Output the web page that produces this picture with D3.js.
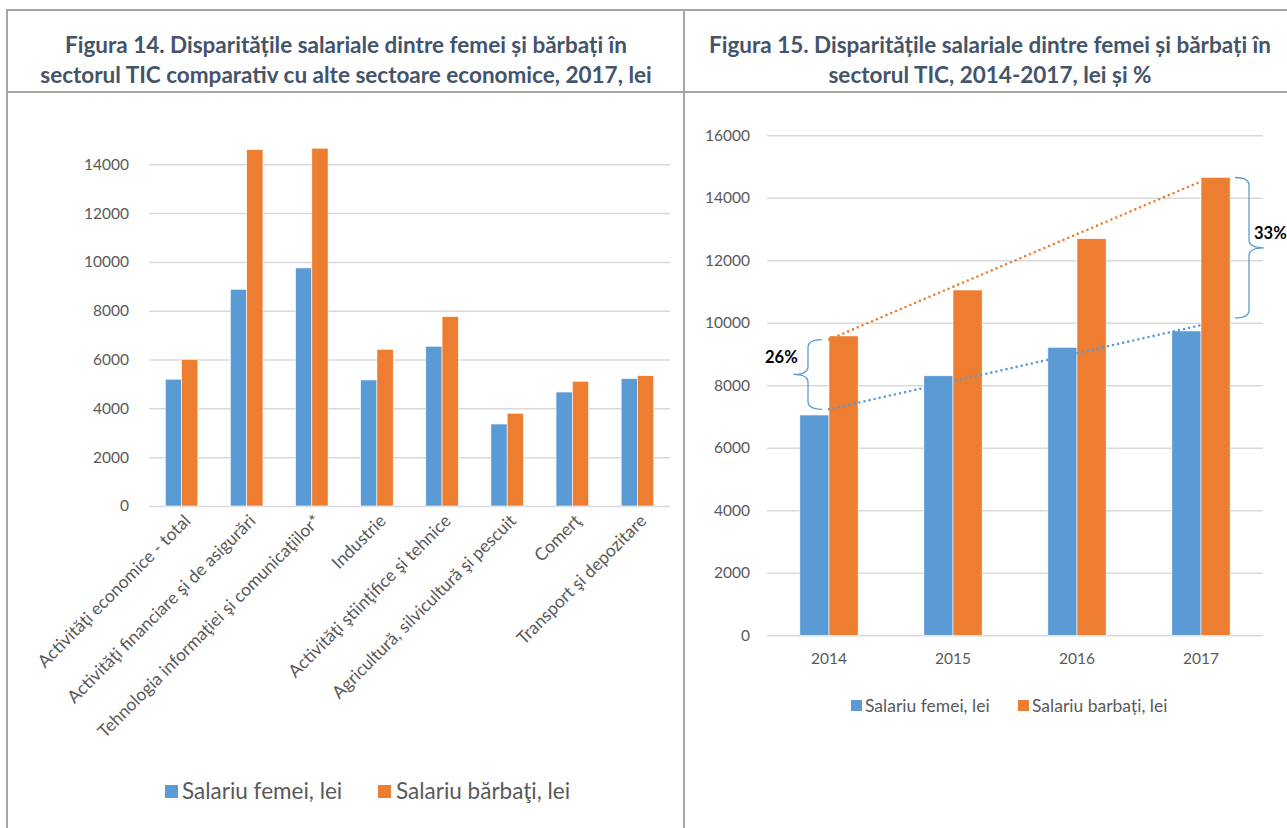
<!DOCTYPE html>
<html>
<head>
<meta charset="utf-8">
<script src="https://cdn.jsdelivr.net/npm/d3@7"></script>
<style>
  html, body { margin: 0; padding: 0; background: #fff; }
  svg { display: block; font-family: Lato, "Open Sans", sans-serif; }
</style>
</head>
<body>
<svg id="chart" width="1287" height="828"></svg>
<script>
// ---- Figura 14: wages by sector, 2017 ----
const sectors = [
  "Activităţi economice - total",
  "Activităţi financiare şi de asigurări",
  "Tehnologia informaţiei şi comunicaţiilor*",
  "Industrie",
  "Activităţi ştiinţifice şi tehnice",
  "Agricultură, silvicultură şi pescuit",
  "Comerţ",
  "Transport şi depozitare"
];
const sectorWomen = [5195, 8880, 9755, 5165, 6545, 3360, 4670, 5220];
const sectorMen   = [6010, 14600, 14660, 6420, 7760, 3800, 5110, 5340];
const sectorTicks = [0, 2000, 4000, 6000, 8000, 10000, 12000, 14000];
const sectorLegend = ["Salariu femei, lei", "Salariu bărbaţi, lei"];

// ---- Figura 15: ICT sector wages, 2014-2017 ----
const years = ["2014", "2015", "2016", "2017"];
const ictWomen = [7050, 8305, 9215, 9740];
const ictMen   = [9580, 11050, 12690, 14655];
const ictTicks = [0, 2000, 4000, 6000, 8000, 10000, 12000, 14000, 16000];
const ictLegend = ["Salariu femei, lei", "Salariu barbați, lei"];
// gap brackets: value span and label
const gapLabels = ["26%", "33%"];
const gapSpans = [[7232, 9463], [10150, 14650]];

const titles14 = ["Figura 14. Disparitățile salariale dintre femei și bărbați în",
                  "sectorul TIC comparativ cu alte sectoare economice, 2017, lei"];
const titles15 = ["Figura 15. Disparitățile salariale dintre femei și bărbați în",
                  "sectorul TIC, 2014-2017, lei și %"];

const BLUE = "#5b9bd5", ORANGE = "#ed7d31", GRID = "#d9d9d9",
      TEXT = "#595959", TITLE = "#44546a", FRAME = "#a6a6a6";

const svg = d3.select("#chart");
svg.append("rect").attr("width", 1287).attr("height", 828).attr("fill", "#fff");

// ---- table frame ----
const frame = svg.append("g").attr("stroke", FRAME).attr("stroke-width", 2);
frame.append("line").attr("x1", 7).attr("x2", 1287).attr("y1", 10).attr("y2", 10);
frame.append("line").attr("x1", 7).attr("x2", 1287).attr("y1", 92).attr("y2", 92);
frame.append("line").attr("x1", 7).attr("x2", 7).attr("y1", 9).attr("y2", 828);
frame.append("line").attr("x1", 684).attr("x2", 684).attr("y1", 9).attr("y2", 828);

function drawTitle(lines, cx) {
  const t = svg.append("text").attr("fill", TITLE).attr("font-weight", 700)
    .attr("font-size", 22.5).attr("text-anchor", "middle");
  lines.forEach((s, i) => t.append("tspan").attr("x", cx).attr("y", 53 + i * 30).text(s));
}
drawTitle(titles14, 346);
drawTitle(titles15, 990);

// ================= Figura 14 =================
{
  const x0 = d3.scaleBand().domain(sectors).range([149, 670]).paddingInner(0.5).paddingOuter(0.25);
  const x1 = d3.scaleBand().domain([0, 1]).range([0, x0.bandwidth()]);
  const y = d3.scaleLinear().domain([0, 14000]).range([506, 164.3]);

  const g = svg.append("g");
  // gridlines
  g.append("g").attr("transform", "translate(149,0)")
    .call(d3.axisLeft(y).tickValues(sectorTicks).tickSize(-521).tickFormat(""))
    .call(a => a.select(".domain").remove())
    .call(a => a.selectAll("line").attr("stroke", GRID).attr("stroke-width", 1.5));
  // tick labels
  g.append("g").attr("transform", "translate(149,0)")
    .call(d3.axisLeft(y).tickValues(sectorTicks).tickSize(0).tickPadding(20).tickFormat(d3.format("d")))
    .call(a => a.select(".domain").remove())
    .call(a => a.selectAll("text").attr("fill", TEXT).attr("font-size", 15.5)
      .attr("font-family", "Lato, sans-serif"));

  const series = [sectorWomen, sectorMen];
  const colors = [BLUE, ORANGE];
  series.forEach((vals, si) => {
    g.append("g").selectAll("rect").data(vals).join("rect")
      .attr("x", (d, i) => x0(sectors[i]) + x1(si))
      .attr("width", x1.bandwidth())
      .attr("y", d => y(d))
      .attr("height", d => y(0) - y(d))
      .attr("fill", colors[si])
      .attr("stroke", "#fff").attr("stroke-width", 0.6);
  });

  // rotated category labels
  g.append("g").selectAll("text").data(sectors).join("text")
    .attr("transform", d => `translate(${x0(d) + x0.bandwidth() / 2 + 10},${522}) rotate(-45)`)
    .attr("text-anchor", "end")
    .attr("fill", TEXT).attr("font-size", 17.5)
    .text(d => d);

  // legend
  const lg = g.append("g");
  const items = [{ x: 165, tx: 182 }, { x: 378, tx: 396 }];
  items.forEach((it, i) => {
    lg.append("rect").attr("x", it.x).attr("y", 785).attr("width", 13).attr("height", 13).attr("fill", colors[i]);
    lg.append("text").attr("x", it.tx).attr("y", 799).attr("fill", TEXT)
      .attr("font-size", 22.5).text(sectorLegend[i]);
  });
}

// ================= Figura 15 =================
{
  const x0 = d3.scaleBand().domain(years).range([767, 1263]).paddingInner(0.53).paddingOuter(0.265);
  const x1 = d3.scaleBand().domain([0, 1]).range([0, x0.bandwidth()]);
  const y = d3.scaleLinear().domain([0, 16000]).range([635.3, 135.3]);

  const g = svg.append("g");
  g.append("g").attr("transform", "translate(767,0)")
    .call(d3.axisLeft(y).tickValues(ictTicks).tickSize(-496).tickFormat(""))
    .call(a => a.select(".domain").remove())
    .call(a => a.selectAll("line").attr("stroke", GRID).attr("stroke-width", 1.5));
  g.append("g").attr("transform", "translate(767,0)")
    .call(d3.axisLeft(y).tickValues(ictTicks).tickSize(0).tickPadding(17).tickFormat(d3.format("d")))
    .call(a => a.select(".domain").remove())
    .call(a => a.selectAll("text").attr("fill", TEXT).attr("font-size", 15.5)
      .attr("font-family", "Lato, sans-serif"));

  // year labels
  g.append("g").attr("transform", "translate(0,635.3)")
    .call(d3.axisBottom(x0).tickSize(0).tickPadding(18))
    .call(a => a.select(".domain").remove())
    .call(a => a.selectAll("text").attr("fill", TEXT).attr("font-size", 15.5)
      .attr("font-family", "Lato, sans-serif"));

  const series = [ictWomen, ictMen];
  const colors = [BLUE, ORANGE];
  series.forEach((vals, si) => {
    g.append("g").selectAll("rect").data(vals).join("rect")
      .attr("x", (d, i) => x0(years[i]) + x1(si))
      .attr("width", x1.bandwidth())
      .attr("y", d => y(d))
      .attr("height", d => y(0) - y(d))
      .attr("fill", colors[si])
      .attr("stroke", "#fff").attr("stroke-width", 0.6);
  });

  // linear trend lines (least squares over year index)
  function fit(vals) {
    const n = vals.length, xs = d3.range(n);
    const mx = d3.mean(xs), my = d3.mean(vals);
    const b = d3.sum(xs, (xi, i) => (xi - mx) * (vals[i] - my)) / d3.sum(xs, xi => (xi - mx) ** 2);
    return xs.map(xi => ({ year: years[xi], v: my + b * (xi - mx) }));
  }
  const cx = d => x0(d) + x0.bandwidth() / 2;
  const line = d3.line().x(d => cx(d.year)).y(d => y(d.v));
  [[ictMen, ORANGE], [ictWomen, BLUE]].forEach(([vals, c]) => {
    const tr = fit(vals);
    g.append("path").datum([tr[0], tr[tr.length - 1]])
      .attr("d", line).attr("fill", "none").attr("stroke", c)
      .attr("stroke-width", 2.6).attr("stroke-linecap", "round")
      .attr("stroke-dasharray", "0 5.2");
  });

  // curly brackets marking the gap
  function brace(xBody, dir, yTop, yBot) {
    const yMid = (yTop + yBot) / 2, w = 14 * dir, r = 4;
    const xTip = xBody - w, xPt = xBody + w * 1.05;
    const p = d3.path();
    p.moveTo(xTip, yTop);
    p.quadraticCurveTo(xBody, yTop, xBody, yTop + r * 2);
    p.lineTo(xBody, yMid - r * 2);
    p.quadraticCurveTo(xBody, yMid, xPt, yMid);
    p.quadraticCurveTo(xBody, yMid, xBody, yMid + r * 2);
    p.lineTo(xBody, yBot - r * 2);
    p.quadraticCurveTo(xBody, yBot, xTip, yBot);
    return p.toString();
  }
  const braceX = [808, 1249], braceDir = [-1, 1];
  gapSpans.forEach((s, i) => {
    g.append("path").attr("d", brace(braceX[i], braceDir[i], y(s[1]), y(s[0])))
      .attr("fill", "none").attr("stroke", BLUE).attr("stroke-width", 1.3);
  });
  g.append("text").attr("x", 765).attr("y", 363).attr("font-weight", 700)
    .attr("font-size", 16.5).attr("fill", "#000").text(gapLabels[0]);
  g.append("text").attr("x", 1254).attr("y", 239).attr("font-weight", 700)
    .attr("font-size", 16.5).attr("fill", "#000").text(gapLabels[1]);

  // legend
  const items = [{ x: 851, tx: 865 }, { x: 1018, tx: 1032 }];
  items.forEach((it, i) => {
    g.append("rect").attr("x", it.x).attr("y", 700).attr("width", 11).attr("height", 11).attr("fill", colors[i]);
    g.append("text").attr("x", it.tx).attr("y", 712).attr("fill", TEXT)
      .attr("font-size", 17.5).text(ictLegend[i]);
  });
}
</script>
</body>
</html>
